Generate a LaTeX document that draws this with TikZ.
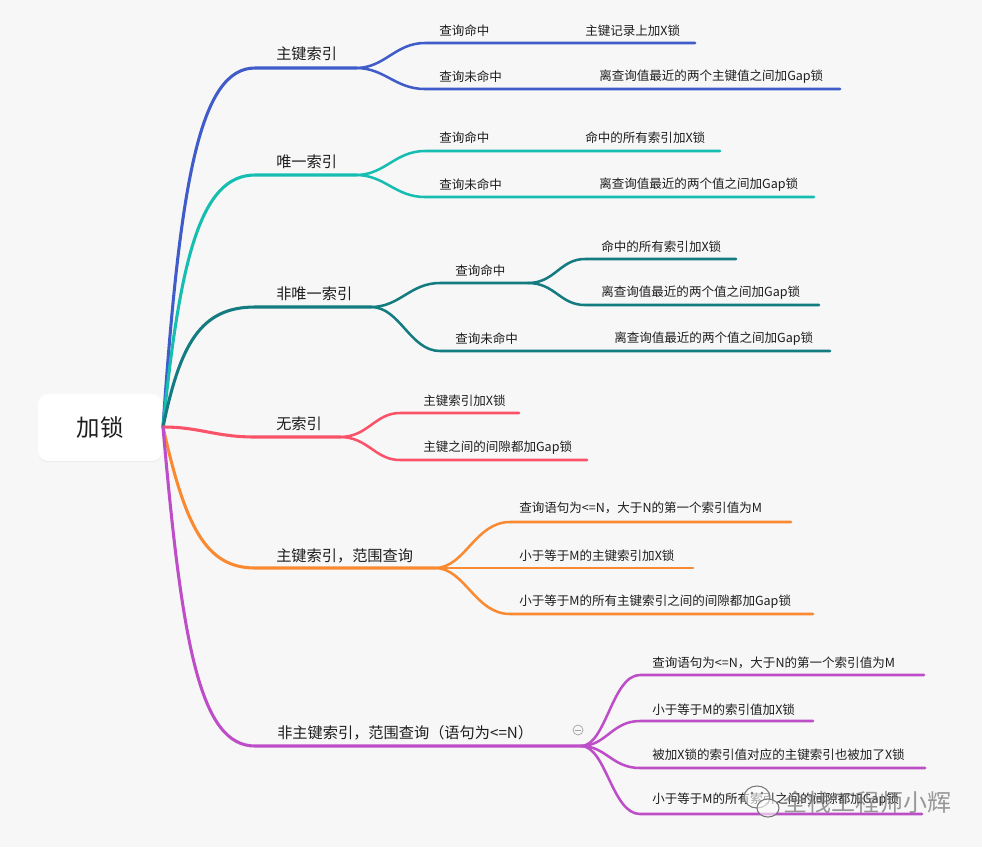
\documentclass[tikz,border=0pt]{standalone}
\usepackage{fontspec}
\setmainfont{Noto Sans CJK SC}
\usetikzlibrary{shadows}
\definecolor{bg}{RGB}{247,247,247}
\definecolor{cblue}{RGB}{64,92,200}
\definecolor{cteal}{RGB}{22,190,178}
\definecolor{cdteal}{RGB}{20,124,128}
\definecolor{cred}{RGB}{250,82,104}
\definecolor{corange}{RGB}{250,138,50}
\definecolor{cpurple}{RGB}{190,78,200}
\definecolor{txt}{RGB}{30,30,30}
\definecolor{wm}{RGB}{120,120,120}
\begin{document}
\begin{tikzpicture}[x=0.75pt,y=-0.75pt,
  br/.style={line width=2.3pt, line cap=round},
  sb/.style={line width=1.9pt, line cap=round},
  l1/.style={anchor=west, inner sep=0pt, font=\fontsize{11.4pt}{13pt}\selectfont, text=txt},
  l2/.style={anchor=west, inner sep=0pt, font=\fontsize{9.4pt}{11pt}\selectfont, text=txt},
  rootbox/.style={fill=white, rounded corners=7.5pt, minimum width=93pt, minimum height=50pt,
    inner sep=0pt, font=\fontsize{17.6pt}{20pt}\selectfont, text=txt,
    drop shadow={opacity=0.07, shadow xshift=0pt, shadow yshift=-1.2pt}}]
\useasboundingbox (0,0) rectangle (982,847);
\fill[bg] (0,0) rectangle (982,847);

% root
\node[rootbox] (root) at (100,427.5) {加锁};
\coordinate (o) at (163,427);

% ---------- branch 1: 主键索引
\coordinate (b1s) at (255,68); \coordinate (b1f) at (356,68);
\draw[cblue,br] (o) .. controls (180,180) and (200,68) .. (b1s) -- (b1f);
\coordinate (b1a) at (425,43); \coordinate (b1ae) at (695,43);
\coordinate (b1b) at (425,89); \coordinate (b1be) at (840,89);
\draw[cblue,sb] (b1f) .. controls (385,68) and (395,43) .. (b1a) -- (b1ae);
\draw[cblue,sb] (b1f) .. controls (385,68) and (395,89) .. (b1b) -- (b1be);
\node[l1] (t1) at (276,54) {主键索引};
\node[l2] (t1a) at (439,31) {查询命中};
\node[l2] (t1a1) at (585,31) {主键记录上加X锁};
\node[l2] (t1b) at (439,77) {查询未命中};
\node[l2] (t1b1) at (599,77) {离查询值最近的两个主键值之间加Gap锁};

% ---------- branch 2: 唯一索引
\coordinate (b2s) at (255,175); \coordinate (b2f) at (356,175);
\draw[cteal,br] (o) .. controls (180,260) and (200,175) .. (b2s) -- (b2f);
\coordinate (b2a) at (425,151); \coordinate (b2ae) at (720,151);
\coordinate (b2b) at (425,197); \coordinate (b2be) at (814,197);
\draw[cteal,sb] (b2f) .. controls (385,175) and (395,151) .. (b2a) -- (b2ae);
\draw[cteal,sb] (b2f) .. controls (385,175) and (395,197) .. (b2b) -- (b2be);
\node[l1] (t2) at (276,162) {唯一索引};
\node[l2] (t2a) at (439,138) {查询命中};
\node[l2] (t2a1) at (585,138) {命中的所有索引加X锁};
\node[l2] (t2b) at (439,185) {查询未命中};
\node[l2] (t2b1) at (599,185) {离查询值最近的两个值之间加Gap锁};

% ---------- branch 3: 非唯一索引
\coordinate (b3s) at (255,307); \coordinate (b3f) at (371,307);
\draw[cdteal,br] (o) .. controls (180,345) and (200,307) .. (b3s) -- (b3f);
\coordinate (b3a) at (440,283); \coordinate (b3af) at (528,283);
\coordinate (b3b) at (440,351); \coordinate (b3be) at (830,351);
\draw[cdteal,sb] (b3f) .. controls (400,307) and (410,283) .. (b3a) -- (b3af);
\draw[cdteal,sb] (b3f) .. controls (400,307) and (410,351) .. (b3b) -- (b3be);
\coordinate (b3a1) at (585,259); \coordinate (b3a1e) at (736,259);
\coordinate (b3a2) at (585,305); \coordinate (b3a2e) at (819,305);
\draw[cdteal,sb] (b3af) .. controls (555,283) and (560,259) .. (b3a1) -- (b3a1e);
\draw[cdteal,sb] (b3af) .. controls (555,283) and (560,305) .. (b3a2) -- (b3a2e);
\node[l1] (t3) at (276,294) {非唯一索引};
\node[l2] (t3a) at (455,271) {查询命中};
\node[l2] (t3a1) at (601,247) {命中的所有索引加X锁};
\node[l2] (t3a2) at (601,293) {离查询值最近的两个值之间加Gap锁};
\node[l2] (t3b) at (455,339) {查询未命中};
\node[l2] (t3b1) at (614,339) {离查询值最近的两个值之间加Gap锁};

% ---------- branch 4: 无索引
\coordinate (b4s) at (255,437); \coordinate (b4f) at (340,437);
\draw[cred,br] (o) .. controls (200,427) and (215,437) .. (b4s) -- (b4f);
\coordinate (b4a) at (400,413); \coordinate (b4ae) at (519,413);
\coordinate (b4b) at (400,460); \coordinate (b4be) at (587,460);
\draw[cred,sb] (b4f) .. controls (368,437) and (375,413) .. (b4a) -- (b4ae);
\draw[cred,sb] (b4f) .. controls (368,437) and (375,460) .. (b4b) -- (b4be);
\node[l1] (t4) at (276,424) {无索引};
\node[l2] (t4a) at (423,401) {主键索引加X锁};
\node[l2] (t4b) at (423,448) {主键之间的间隙都加Gap锁};

% ---------- branch 5: 主键索引，范围查询
\coordinate (b5s) at (255,568); \coordinate (b5f) at (435,568);
\draw[corange,br] (o) .. controls (185,525) and (205,568) .. (b5s) -- (b5f);
\coordinate (b5a) at (510,522); \coordinate (b5ae) at (791,522);
\coordinate (b5be) at (693,568);
\coordinate (b5c) at (510,614); \coordinate (b5ce) at (813,614);
\draw[corange,sb] (b5f) .. controls (465,568) and (475,522) .. (b5a) -- (b5ae);
\draw[corange,sb] (b5f) -- (b5be);
\draw[corange,sb] (b5f) .. controls (465,568) and (475,614) .. (b5c) -- (b5ce);
\node[l1] (t5) at (276,556) {主键索引，范围查询};
\node[l2] (t5a) at (519,508) {查询语句为<=N，大于N的第一个索引值为M};
\node[l2] (t5b) at (519,556) {小于等于M的主键索引加X锁};
\node[l2] (t5c) at (519,602) {小于等于M的所有主键索引之间的间隙都加Gap锁};

% ---------- branch 6: 非主键索引，范围查询（语句为<=N）
\coordinate (b6s) at (255,746); \coordinate (b6f) at (581,746);
\draw[cpurple,br] (o) .. controls (182,645) and (200,746) .. (b6s) -- (b6f);
\coordinate (b6a) at (640,675); \coordinate (b6ae) at (924,675);
\coordinate (b6b) at (640,721); \coordinate (b6be) at (813,721);
\coordinate (b6c) at (640,768); \coordinate (b6ce) at (925,768);
\coordinate (b6d) at (640,814); \coordinate (b6de) at (922,814);
\draw[cpurple,sb] (b6f) .. controls (606,746) and (612,675) .. (b6a) -- (b6ae);
\draw[cpurple,sb] (b6f) .. controls (606,746) and (612,721) .. (b6b) -- (b6be);
\draw[cpurple,sb] (b6f) .. controls (606,746) and (612,768) .. (b6c) -- (b6ce);
\draw[cpurple,sb] (b6f) .. controls (606,746) and (612,814) .. (b6d) -- (b6de);
\node[l1] (t6) at (277,733) {非主键索引，范围查询（语句为<=N）};
\node[l2] (t6a) at (652,663) {查询语句为<=N，大于N的第一个索引值为M};
\node[l2] (t6b) at (652,710) {小于等于M的索引值加X锁};
\node[l2] (t6c) at (652,755) {被加X锁的索引值对应的主键索引也被加了X锁};
\node[l2] (t6d) at (652,800) {小于等于M的所有索引之间的间隙都加Gap锁};

% collapse icon
\node[circle, draw=gray!75, line width=0.5pt, minimum size=7.5pt, inner sep=0pt] (col) at (578,730) {};
\draw[gray!75, line width=0.5pt] ([xshift=-2pt]col.center) -- ([xshift=2pt]col.center);

% watermark
\draw[wm, line width=0.8pt, fill=white, fill opacity=0.6] (757,797) ellipse (13 and 11);
\draw[wm, line width=0.8pt, fill=white, fill opacity=0.6] (768,808) ellipse (11 and 9);
\fill[wm] (752,793) circle (1.5); \fill[wm] (762,793) circle (1.5);
\node[anchor=west, inner sep=0pt, font=\fontsize{18pt}{20pt}\selectfont, text=wm, opacity=0.75] (wmt) at (783,802) {全栈工程师小辉};
\end{tikzpicture}
\end{document}
